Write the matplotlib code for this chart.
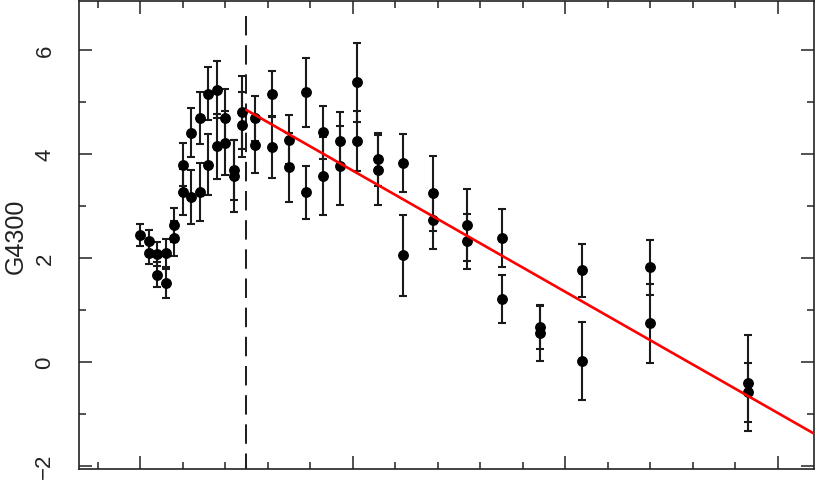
import matplotlib
matplotlib.use("Agg")
import matplotlib.pyplot as plt
from matplotlib.ticker import MultipleLocator
import numpy as np

# ---- data ----
x_pos = [0.0, 0.2, 0.2, 0.4, 0.4, 0.6, 0.6, 0.8, 0.8, 1.0, 1.0, 1.2, 1.2,
         1.4, 1.4, 1.6, 1.6, 1.8, 1.8, 2.0, 2.0, 2.2, 2.2, 2.4, 2.4,
         2.69, 2.69, 3.09, 3.09, 3.5, 3.5, 3.9, 3.9, 4.29, 4.29, 4.7, 4.7,
         5.09, 5.09, 5.59, 5.59, 6.19, 6.19, 6.9, 6.9, 7.7, 7.7, 8.51, 8.51,
         9.41, 9.41, 10.4, 10.4, 12.0, 12.0, 14.29, 14.29]
g4300 = [2.44, 2.315, 2.09, 2.07, 1.67, 2.09, 1.51, 2.63, 2.37, 3.79, 3.26,
         4.40, 3.17, 4.68, 3.26, 5.15, 3.79, 5.23, 4.14, 4.68, 4.21, 3.69, 3.57,
         4.80, 4.56, 4.68, 4.17, 5.15, 4.13, 4.27, 3.74, 5.18, 3.26, 4.41, 3.58,
         4.25, 3.77, 5.37, 4.24, 3.89, 3.69, 3.815, 2.05, 3.24, 2.73, 2.63, 2.32,
         2.38, 1.21, 0.66, 0.55, 1.76, 0.01, 1.815, 0.74, -0.41, -0.59]
g4300_err = [0.21, 0.22, 0.22, 0.23, 0.24, 0.27, 0.28, 0.33, 0.34, 0.41, 0.44,
             0.47, 0.52, 0.50, 0.56, 0.51, 0.59, 0.55, 0.62, 0.56, 0.62, 0.58, 0.69,
             0.70, 0.62, 0.43, 0.54, 0.45, 0.60, 0.47, 0.66, 0.66, 0.51, 0.51, 0.75,
             0.55, 0.76, 0.76, 0.58, 0.51, 0.67, 0.56, 0.78, 0.72, 0.56, 0.69, 0.53,
             0.56, 0.46, 0.42, 0.54, 0.51, 0.75, 0.53, 0.76, 0.92, 0.565]

break_x = 2.5
fit_intercept = 6.005
fit_slope = -0.466

y_ticks = [-2, 0, 2, 4, 6]
y_ticklabels = ["\u22122", "0", "2", "4", "6"]
y_label = "G4300"

xlim = (-1.44, 15.86)
ylim = (-2.063, 6.937)

# ---- figure ----
plt.rcParams['font.family'] = ['Liberation Sans', 'DejaVu Sans']
fig = plt.figure(figsize=(8.17, 4.85), dpi=100)
ax = fig.add_axes([79 / 817, 1 - 470 / 485, (814.3 - 79) / 817, (470 - 2) / 485])

ax.set_xlim(*xlim)
ax.set_ylim(*ylim)

ax.errorbar(x_pos, g4300, yerr=g4300_err, fmt='o', color='black',
            ecolor='#1a1a1a', elinewidth=1.5, capsize=3, capthick=1.5,
            markersize=6.8, zorder=3)

fx = np.array([break_x, xlim[1] + 1])
ax.plot(fx, fit_intercept + fit_slope * fx, color='red', lw=1.9, zorder=4)

dl, = ax.plot([break_x, break_x], [6.65, ylim[0]], color='#1a1a1a', lw=1.4, zorder=2)
dl.set_dashes([10, 5])

ax.xaxis.set_major_locator(MultipleLocator(5))
ax.xaxis.set_minor_locator(MultipleLocator(1))
ax.set_yticks(y_ticks)
ax.set_yticklabels(y_ticklabels, rotation=90, va='center')
ax.yaxis.set_minor_locator(MultipleLocator(1))
ax.set_xticklabels([])

ax.tick_params(which='both', direction='in', top=True, right=True,
               width=1.1, color='#222222')
ax.tick_params(which='major', length=9.4)
ax.tick_params(which='minor', length=5)
ax.tick_params(axis='y', which='major', labelsize=16, pad=17, labelcolor='#222222')

for s in ax.spines.values():
    s.set_linewidth(1.2)
    s.set_color('#222222')

ax.set_ylabel(y_label, fontsize=18, color='#222222', labelpad=5)

fig.savefig("out.png", dpi=100)
